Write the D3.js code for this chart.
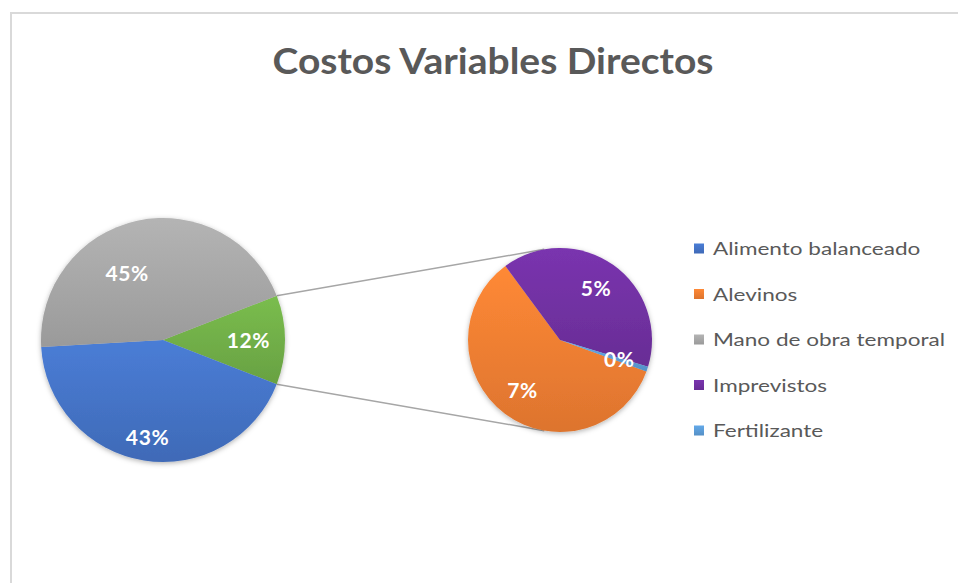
<!DOCTYPE html>
<html>
<head>
<meta charset="utf-8">
<script src="https://cdn.jsdelivr.net/npm/d3@7"></script>
<style>
  html, body { margin: 0; padding: 0; background: #fff; }
  svg { display: block; }
</style>
</head>
<body>
<div id="chart"></div>
<script>
// Pie-of-pie: "Costos Variables Directos"
// main pie holds the big items plus an "other" slice, the small items are
// split out into the secondary pie on the right.

const CATEGORIES = ["Alimento balanceado", "Alevinos", "Mano de obra temporal", "Imprevistos", "Fertilizante"];
const VALUES     = [43.2, 7.0, 45.0, 4.7, 0.1];
const COLORS     = ["#4472C4", "#ED7D31", "#A5A5A5", "#7030A0", "#5B9BD5"];
const SECONDARY  = ["Alevinos", "Imprevistos", "Fertilizante"];
const OTHER_NAME  = "Otro";
const OTHER_COLOR = "#70AD47";
const TITLE = "Costos Variables Directos";

const W = 958, H = 583;
const FONT = "Lato, 'Open Sans', sans-serif";
const TEXT_COLOR = "#595959";

const main = { cx: 163, cy: 340, r: 122 };
const sec  = { cx: 560, cy: 340, r: 92, start: 110 };   // start in degrees, d3 convention

// label placement (fraction of radius, angle nudge in degrees)
const LABEL_MAIN = {
  "Mano de obra temporal": { k: 0.62, da: -16 },
  "Alimento balanceado":   { k: 0.81, da: 0 },
  [OTHER_NAME]:            { k: 0.70, da: 0 },
};
const LABEL_SEC_K = 0.68;

const rad = deg => deg * Math.PI / 180;

const rows = CATEGORIES.map((c, i) => ({ name: c, value: VALUES[i], color: COLORS[i] }));
const total = d3.sum(rows, d => d.value);
const secRows  = rows.filter(d => SECONDARY.includes(d.name));
const otherVal = d3.sum(secRows, d => d.value);
const mainRows = [
  { name: OTHER_NAME, value: otherVal, color: OTHER_COLOR },
  ...rows.filter(d => !SECONDARY.includes(d.name)),
];
const pct = d3.format(".0%");

const svg = d3.select("#chart").append("svg")
  .attr("width", W).attr("height", H);

const defs = svg.append("defs");
defs.append("filter")
    .attr("id", "shadow")
    .attr("x", "-20%").attr("y", "-20%").attr("width", "140%").attr("height", "140%")
  .append("feDropShadow")
    .attr("dx", 0).attr("dy", 1.5)
    .attr("stdDeviation", 2.5)
    .attr("flood-color", "#000")
    .attr("flood-opacity", 0.3);

function gradFor(color) {
  const id = "g" + color.replace("#", "");
  if (defs.select("#" + id).empty()) {
    const lg = defs.append("linearGradient")
      .attr("id", id).attr("x1", 0).attr("y1", 0).attr("x2", 0).attr("y2", 1);
    lg.append("stop").attr("offset", "0%").attr("stop-color", d3.color(color).brighter(0.25));
    lg.append("stop").attr("offset", "100%").attr("stop-color", d3.color(color).darker(0.2));
  }
  return `url(#${id})`;
}

// chart area border (only left/top visible in the crop)
svg.append("rect")
  .attr("x", 11).attr("y", 13)
  .attr("width", W + 20).attr("height", H + 20)
  .attr("fill", "#fff")
  .attr("stroke", "#d9d9d9")
  .attr("stroke-width", 2);

// Title
const title = svg.append("text")
  .attr("x", 493).attr("y", 74)
  .attr("text-anchor", "middle")
  .attr("fill", TEXT_COLOR)
  .attr("font-family", FONT)
  .attr("font-size", 36)
  .attr("font-weight", 700)
  .text(TITLE);
title.attr("textLength", 441).attr("lengthAdjust", "spacingAndGlyphs");

// Main pie
const otherAngle = 2 * Math.PI * otherVal / total;
const mainStart = Math.PI / 2 - otherAngle / 2;
const mainArcs = d3.pie().sort(null).value(d => d.value)
  .startAngle(mainStart).endAngle(mainStart + 2 * Math.PI)(mainRows);

const secArcs = d3.pie().sort(null).value(d => d.value)
  .startAngle(rad(sec.start)).endAngle(rad(sec.start) + 2 * Math.PI)(secRows);

// Connector lines: from the ends of the "other" slice, tangent to the secondary pie
const oth = mainArcs[0];
const edge = a => [main.cx + main.r * Math.sin(a), main.cy - main.r * Math.cos(a)];
function tangent(p, upper) {
  const dx = p[0] - sec.cx, dy = p[1] - sec.cy;
  const d = Math.hypot(dx, dy);
  const phi = Math.atan2(dy, dx);
  const beta = Math.acos(sec.r / d);
  const a = upper ? phi + beta : phi - beta;
  return [sec.cx + sec.r * Math.cos(a), sec.cy + sec.r * Math.sin(a)];
}
const pUp = edge(oth.startAngle), pDn = edge(oth.endAngle);
[[pUp, tangent(pUp, true)], [pDn, tangent(pDn, false)]].forEach(([a, b]) => {
  svg.append("line")
    .attr("x1", a[0]).attr("y1", a[1])
    .attr("x2", b[0]).attr("y2", b[1])
    .attr("stroke", "#a6a6a6")
    .attr("stroke-width", 1.5);
});

const arcMain = d3.arc().innerRadius(0).outerRadius(main.r);
const arcSec  = d3.arc().innerRadius(0).outerRadius(sec.r);

const gMain = svg.append("g")
  .attr("transform", `translate(${main.cx},${main.cy})`)
  .attr("filter", "url(#shadow)");
gMain.selectAll("path")
  .data(mainArcs)
  .join("path")
    .attr("d", arcMain)
    .attr("fill", d => gradFor(d.data.color));

const gSec = svg.append("g")
  .attr("transform", `translate(${sec.cx},${sec.cy})`)
  .attr("filter", "url(#shadow)");
gSec.selectAll("path")
  .data(secArcs)
  .join("path")
    .attr("d", arcSec)
    .attr("fill", d => gradFor(d.data.color));

// Data labels
function labelPos(d, r, k, da) {
  const a = (d.startAngle + d.endAngle) / 2 + rad(da);
  return [r * k * Math.sin(a), -r * k * Math.cos(a)];
}
function drawLabels(g, arcs, r, place) {
  g.selectAll("text")
    .data(arcs)
    .join("text")
      .attr("transform", d => {
        const p = place(d);
        return `translate(${labelPos(d, r, p.k, p.da)})`;
      })
      .attr("text-anchor", "middle")
      .attr("dy", "0.36em")
      .attr("fill", "#fff")
      .attr("font-family", FONT)
      .attr("font-size", 21)
      .attr("font-weight", 700)
      .attr("letter-spacing", 0.6)
      .text(d => pct(d.data.value / total));
}
drawLabels(svg.append("g").attr("transform", `translate(${main.cx},${main.cy})`),
  mainArcs, main.r, d => LABEL_MAIN[d.data.name]);
drawLabels(svg.append("g").attr("transform", `translate(${sec.cx},${sec.cy})`),
  secArcs, sec.r, () => ({ k: LABEL_SEC_K, da: 0 }));

// Legend
const legendY = d3.scalePoint().domain(CATEGORIES).range([255, 437]);
const legend = svg.append("g");
legend.selectAll("rect")
  .data(rows)
  .join("rect")
    .attr("x", 694)
    .attr("y", d => legendY(d.name) - 11.5)
    .attr("width", 10).attr("height", 10)
    .attr("fill", d => gradFor(d.color));

const legendText = legend.selectAll("text")
  .data(rows)
  .join("text")
    .attr("x", 713)
    .attr("y", d => legendY(d.name))
    .attr("fill", TEXT_COLOR)
    .attr("font-family", FONT)
    .attr("font-size", 17)
    .text(d => d.name);

// widen legend text to match the reference spacing
const refNode = legendText.filter(d => d.name === "Mano de obra temporal").node();
const stretch = 232 / refNode.getComputedTextLength();
legendText.each(function () {
  const w = this.getComputedTextLength();
  d3.select(this).attr("textLength", w * stretch).attr("lengthAdjust", "spacingAndGlyphs");
});
</script>
</body>
</html>
